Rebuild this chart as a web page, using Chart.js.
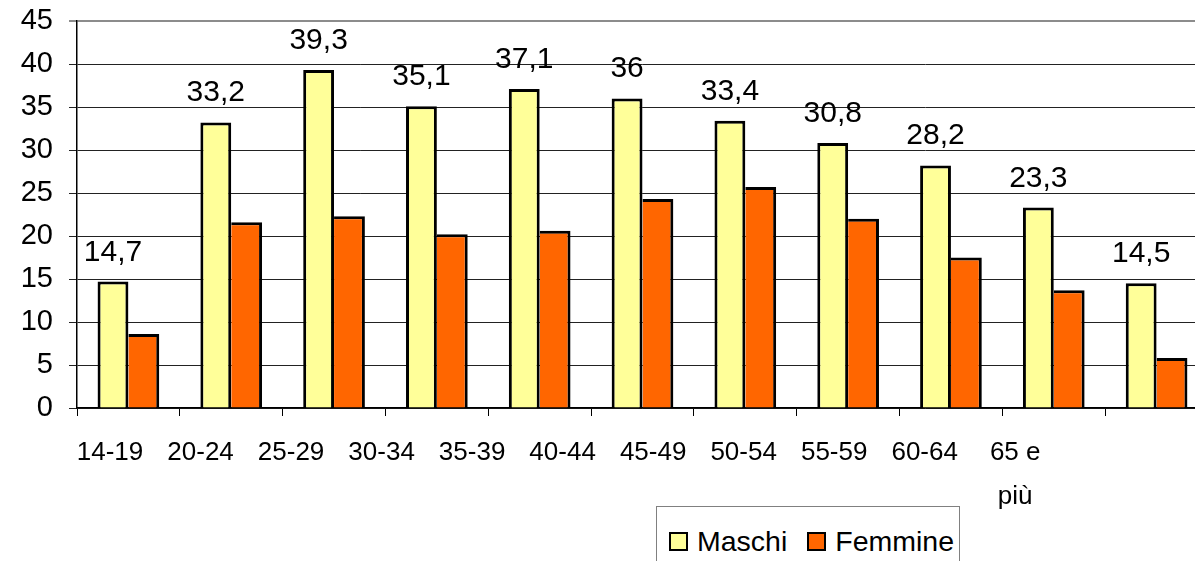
<!DOCTYPE html>
<html>
<head>
<meta charset="utf-8">
<script src="https://cdn.jsdelivr.net/npm/chart.js@4/dist/chart.umd.min.js"></script>
<style>
  html, body { margin: 0; padding: 0; background: #fff; overflow: hidden; }
  #wrap { position: absolute; left: 0; top: 0; width: 1208px; height: 561px; }
  #legenda {
    position: absolute; left: 656px; top: 506px; width: 304px; height: 80px;
    box-sizing: border-box; border: 1.5px solid #808080; background: #fff;
    padding: 25px 0 0 12px; display: flex;
    font-family: "Liberation Sans", Arial, sans-serif; font-size: 28.5px; color: #000;
  }
  #legenda .voce { display: flex; align-items: flex-start; line-height: 19px; margin-right: 20px; }
  #legenda .box { width: 19px; height: 19px; box-sizing: border-box; border: 2.5px solid #000; margin-right: 9px; }
</style>
</head>
<body>
<div id="wrap"><canvas id="grafico" width="1208" height="561"></canvas></div>
<div id="legenda"></div>
<script>
// dati
const fasce = ["14-19", "20-24", "25-29", "30-34", "35-39", "40-44", "45-49", "50-54", "55-59", "60-64", "65 e più"];
const etichetteFasce = ["14-19", "20-24", "25-29", "30-34", "35-39", "40-44", "45-49", "50-54", "55-59", "60-64", ["65 e", "più"]];
const maschi = [14.7, 33.2, 39.3, 35.1, 37.1, 36, 33.4, 30.8, 28.2, 23.3, 14.5];
const femmine = [8.6, 21.6, 22.3, 20.2, 20.6, 24.3, 25.7, 22.0, 17.5, 13.7, 5.8];
const tickY = [0, 5, 10, 15, 20, 25, 30, 35, 40, 45];

const fontBase = '"Liberation Sans", Arial, sans-serif';

// etichette sopra le barre dei maschi
const etichetteValori = {
    id: 'etichetteValori',
    afterDatasetsDraw(chart) {
        const ctx = chart.ctx;
        const meta = chart.getDatasetMeta(0);
        ctx.save();
        ctx.font = '30px ' + fontBase;
        ctx.fillStyle = '#000';
        ctx.textAlign = 'center';
        ctx.textBaseline = 'alphabetic';
        meta.data.forEach((bar, i) => {
            ctx.fillText(String(maschi[i]).replace('.', ','), bar.x, bar.y - 21);
        });
        ctx.restore();
    }
};

const ctx = document.getElementById("grafico").getContext("2d");
const grafico = new Chart(ctx, {
    type: 'bar',
    data: {
        labels: fasce,
        datasets: [
            {
                label: 'Maschi',
                data: maschi,
                xAxisID: 'x',
                backgroundColor: '#FFFF99',
                borderColor: '#000',
                borderWidth: { top: 3, left: 3, right: 3, bottom: 0 },
                borderSkipped: false
            },
            {
                label: 'Femmine',
                data: femmine,
                xAxisID: 'x',
                backgroundColor: '#FF6600',
                borderColor: '#000',
                borderWidth: { top: 3, left: 0, right: 3, bottom: 0 },
                borderSkipped: false
            }
        ]
    },
    options: {
        responsive: false,
        animation: false,
        events: [],
        layout: { padding: { top: 21, left: 0, right: 0, bottom: 0 } },
        datasets: { bar: { categoryPercentage: 0.6, barPercentage: 1.0 } },
        plugins: { legend: { display: false }, tooltip: { enabled: false } },
        scales: {
            x: {
                type: 'category',
                offset: true,
                grid: { offset: true, drawOnChartArea: false, color: '#000', tickLength: 8, lineWidth: 1 },
                border: { color: '#000', width: 1.5 },
                ticks: { display: false }
            },
            // asse solo per le etichette delle fasce (spaziatura come nell'originale)
            x2: {
                type: 'linear',
                position: 'bottom',
                bounds: 'data',
                offset: false,
                min: -0.365,
                max: 12.13,
                grid: { display: false, drawTicks: false, offset: false },
                border: { display: false },
                afterBuildTicks: (s) => { s.ticks = etichetteFasce.map((_, i) => ({ value: i })); },
                afterFit: (s) => { s.height = 145; s.paddingLeft = 0; s.paddingRight = 0; },
                ticks: {
                    autoSkip: false,
                    maxRotation: 0,
                    padding: 15,
                    color: '#000',
                    font: { family: fontBase, size: 26, lineHeight: 1.7 },
                    callback: (v, i) => etichetteFasce[i]
                }
            },
            y: {
                min: 0,
                max: 45,
                afterBuildTicks: (s) => { s.ticks = tickY.map(v => ({ value: v })); },
                afterFit: (s) => { s.width = 77; s.paddingTop = 0; s.paddingBottom = 0; },
                grid: {
                    color: (c) => c.tick && c.tick.value === 45 ? '#8c8c8c' : '#222',
                    lineWidth: (c) => c.tick && c.tick.value === 45 ? 2 : 1,
                    tickLength: 8
                },
                border: { color: '#000', width: 1.5 },
                ticks: {
                    autoSkip: false,
                    padding: 16,
                    color: '#000',
                    font: { family: fontBase, size: 29 }
                }
            }
        }
    },
    plugins: [etichetteValori]
});

// legenda HTML con bordo
const legenda = document.getElementById("legenda");
grafico.data.datasets.forEach(ds => {
    legenda.innerHTML += `<div class="voce"><div class="box" style="background:${ds.backgroundColor}"></div><span>${ds.label}</span></div>`;
});
</script>
</body>
</html>
